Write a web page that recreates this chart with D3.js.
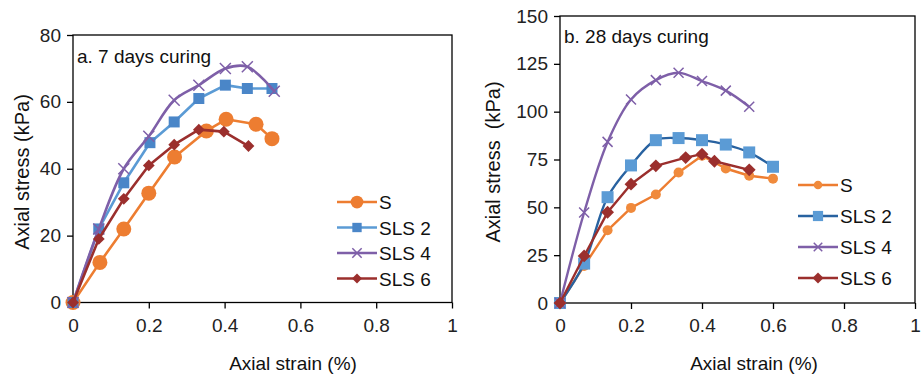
<!DOCTYPE html>
<html>
<head>
<meta charset="utf-8">
<script src="https://cdn.jsdelivr.net/npm/d3@7"></script>
<style>
  body { margin: 0; background: #fff; }
  svg { display: block; font-family: "Liberation Sans", Arial, sans-serif; }
</style>
</head>
<body>
<svg id="chart" width="922" height="376"></svg>
<script>
// series names and legend labels
const seriesNames = ["S", "SLS 2", "SLS 4", "SLS 6"];

// a. 7 days curing
const strainA_S = [0, 0.071, 0.134, 0.2, 0.268, 0.352, 0.404, 0.483, 0.525];
const stressA_S = [0, 12, 22, 32.7, 43.5, 51.3, 54.8, 53.3, 49];
const strainA_SLS2 = [0, 0.068, 0.134, 0.203, 0.267, 0.332, 0.402, 0.46, 0.525];
const stressA_SLS2 = [0, 22, 35.8, 47.8, 54, 61, 65, 64, 64];
const strainA_SLS4 = [0, 0.068, 0.134, 0.2, 0.267, 0.332, 0.402, 0.46, 0.531];
const stressA_SLS4 = [0, 22, 40, 49.7, 60.5, 65, 70, 70.5, 63.2];
const strainA_SLS6 = [0, 0.068, 0.134, 0.2, 0.267, 0.332, 0.398, 0.463];
const stressA_SLS6 = [0, 19, 31, 41, 47.2, 51.7, 51.1, 46.8];

// b. 28 days curing
const strainB_S = [0, 0.068, 0.134, 0.2, 0.27, 0.334, 0.4, 0.467, 0.533, 0.6];
const stressB_S = [0, 19.4, 38, 49.7, 56.7, 68.2, 77, 70.3, 66.5, 65];
const strainB_SLS2 = [0, 0.068, 0.134, 0.2, 0.27, 0.334, 0.4, 0.467, 0.533, 0.6];
const stressB_SLS2 = [0, 20.6, 55.3, 71.9, 85.1, 86.2, 85.1, 82.8, 78.7, 71.2];
const strainB_SLS4 = [0, 0.068, 0.134, 0.2, 0.27, 0.334, 0.4, 0.467, 0.533];
const stressB_SLS4 = [0, 47.3, 84.2, 106.4, 116.5, 120.3, 116, 111, 102.6];
const strainB_SLS6 = [0, 0.068, 0.134, 0.2, 0.27, 0.354, 0.4, 0.435, 0.533];
const stressB_SLS6 = [0, 24.6, 47.4, 62.1, 71.7, 76, 77.8, 74.1, 69.6];

const xTicks = [0, 0.2, 0.4, 0.6, 0.8, 1];
const yTicksA = [0, 20, 40, 60, 80];
const yTicksB = [0, 25, 50, 75, 100, 125, 150];

const zip = (xs, ys) => xs.map((x, i) => ({ x, y: ys[i] }));

const svg = d3.select("#chart");

function drawPanel(p) {
  const x = d3.scaleLinear().domain([0, 1]).range([p.left, p.right]);
  const y = d3.scaleLinear().domain([0, p.yMax]).range([p.bottom, p.top]);
  const g = svg.append("g");

  // axes
  g.append("g")
    .attr("transform", `translate(0,${p.bottom})`)
    .call(d3.axisBottom(x).tickValues(xTicks).tickSize(6).tickPadding(10).tickFormat(d3.format("~g")))
    .call(a => a.select(".domain").remove());
  g.append("g")
    .attr("transform", `translate(${p.left},0)`)
    .call(d3.axisLeft(y).tickValues(p.yTicks).tickSize(6).tickPadding(6))
    .call(a => a.select(".domain").remove());
  g.selectAll(".tick line").attr("stroke", "#000").attr("stroke-width", 1.3);
  g.selectAll(".tick text")
    .attr("fill", "#222")
    .style("font-size", "19px")
    .style("font-family", "'Liberation Sans', Arial, sans-serif");

  // plot frame
  g.append("rect")
    .attr("x", p.left).attr("y", p.top)
    .attr("width", p.right - p.left).attr("height", p.bottom - p.top)
    .attr("fill", "none").attr("stroke", "#000").attr("stroke-width", 1.3);

  // titles
  g.append("text")
    .attr("x", p.left + 4).attr("y", p.labelY)
    .attr("font-size", 19).attr("fill", "#111")
    .text(p.label);
  g.append("text")
    .attr("x", p.xTitleX).attr("y", 370)
    .attr("text-anchor", "middle").attr("font-size", 19).attr("fill", "#111")
    .text("Axial strain (%)");
  g.append("text")
    .attr("transform", `translate(${p.yTitleX},${p.yTitleY}) rotate(-90)`)
    .attr("text-anchor", "middle").attr("font-size", 20).attr("fill", "#111")
    .attr("xml:space", "preserve").style("white-space", "pre")
    .text(p.yTitle);

  // series
  p.series.forEach((s, i) => {
    const pts = zip(s.strain, s.stress);
    const line = d3.line()
      .x(d => x(d.x)).y(d => y(d.y))
      .curve(s.smooth ? d3.curveCatmullRom.alpha(0.5) : d3.curveLinear);
    g.append("path")
      .datum(pts)
      .attr("fill", "none")
      .attr("stroke", s.line)
      .attr("stroke-width", p.lineWidth)
      .attr("stroke-linejoin", "round")
      .attr("d", line);
    drawMarkers(g, pts.map(d => [x(d.x), y(d.y)]), i, s, p.markerSize[i]);
  });

  // legend
  p.series.forEach((s, i) => {
    const ly = p.legendY + i * p.legendGap;
    g.append("line")
      .attr("x1", p.legendX).attr("x2", p.legendX + 40)
      .attr("y1", ly).attr("y2", ly)
      .attr("stroke", s.line).attr("stroke-width", p.lineWidth);
    drawMarkers(g, [[p.legendX + 20, ly]], i, s, p.markerSize[i] * 0.85);
    g.append("text")
      .attr("x", p.legendX + 42).attr("y", ly + 7)
      .attr("font-size", 19).attr("fill", "#111")
      .text(seriesNames[i]);
  });
}

function drawMarkers(g, pts, i, s, sz) {
  if (i === 2) {
    pts.forEach(([cx, cy]) => {
      g.append("path")
        .attr("d", `M${cx - sz},${cy - sz}L${cx + sz},${cy + sz}M${cx - sz},${cy + sz}L${cx + sz},${cy - sz}`)
        .attr("stroke", s.marker).attr("stroke-width", 1.5).attr("fill", "none");
    });
    return;
  }
  const shape = i === 0 ? d3.symbolCircle : d3.symbolSquare;
  const area = i === 0 ? Math.PI * sz * sz : (i === 1 ? (2 * sz) * (2 * sz) : 2 * sz * sz * 1.15);
  g.selectAll(null)
    .data(pts)
    .join("path")
    .attr("transform", d => i === 3
      ? `translate(${d[0]},${d[1]}) rotate(45)`
      : `translate(${d[0]},${d[1]})`)
    .attr("d", d3.symbol(shape, area)())
    .attr("fill", s.marker);
}

drawPanel({
  left: 73, right: 452, top: 35, bottom: 302.5, yMax: 80, yTicks: yTicksA,
  label: "a. 7 days curing", labelY: 63,
  xTitleX: 293, yTitleX: 29, yTitleY: 172, yTitle: "Axial stress (kPa)",
  lineWidth: 2.6, markerSize: [7.5, 5.5, 5.5, 5.5],
  legendX: 337, legendY: 202, legendGap: 25.5,
  series: [
    { strain: strainA_S, stress: stressA_S, line: "#ED7D31", marker: "#ED7D31" },
    { strain: strainA_SLS2, stress: stressA_SLS2, line: "#5B9BD5", marker: "#4A86C8" },
    { strain: strainA_SLS4, stress: stressA_SLS4, line: "#7E5FA8", marker: "#7E5FA8", smooth: true },
    { strain: strainA_SLS6, stress: stressA_SLS6, line: "#9B2F2D", marker: "#9B2F2D" }
  ]
});

drawPanel({
  left: 560, right: 915, top: 16, bottom: 303, yMax: 150, yTicks: yTicksB,
  label: "b. 28 days curing", labelY: 43,
  xTitleX: 754, yTitleX: 500, yTitleY: 162, yTitle: "Axial stress  (kPa)",
  lineWidth: 2.4, markerSize: [5, 6, 5, 6],
  legendX: 798, legendY: 185, legendGap: 31,
  series: [
    { strain: strainB_S, stress: stressB_S, line: "#ED7D31", marker: "#F08A3C" },
    { strain: strainB_SLS2, stress: stressB_SLS2, line: "#2862A0", marker: "#5B9BD5", smooth: true },
    { strain: strainB_SLS4, stress: stressB_SLS4, line: "#7E5FA8", marker: "#7E5FA8", smooth: true },
    { strain: strainB_SLS6, stress: stressB_SLS6, line: "#9B2F2D", marker: "#9B2F2D" }
  ]
});
</script>
</body>
</html>
